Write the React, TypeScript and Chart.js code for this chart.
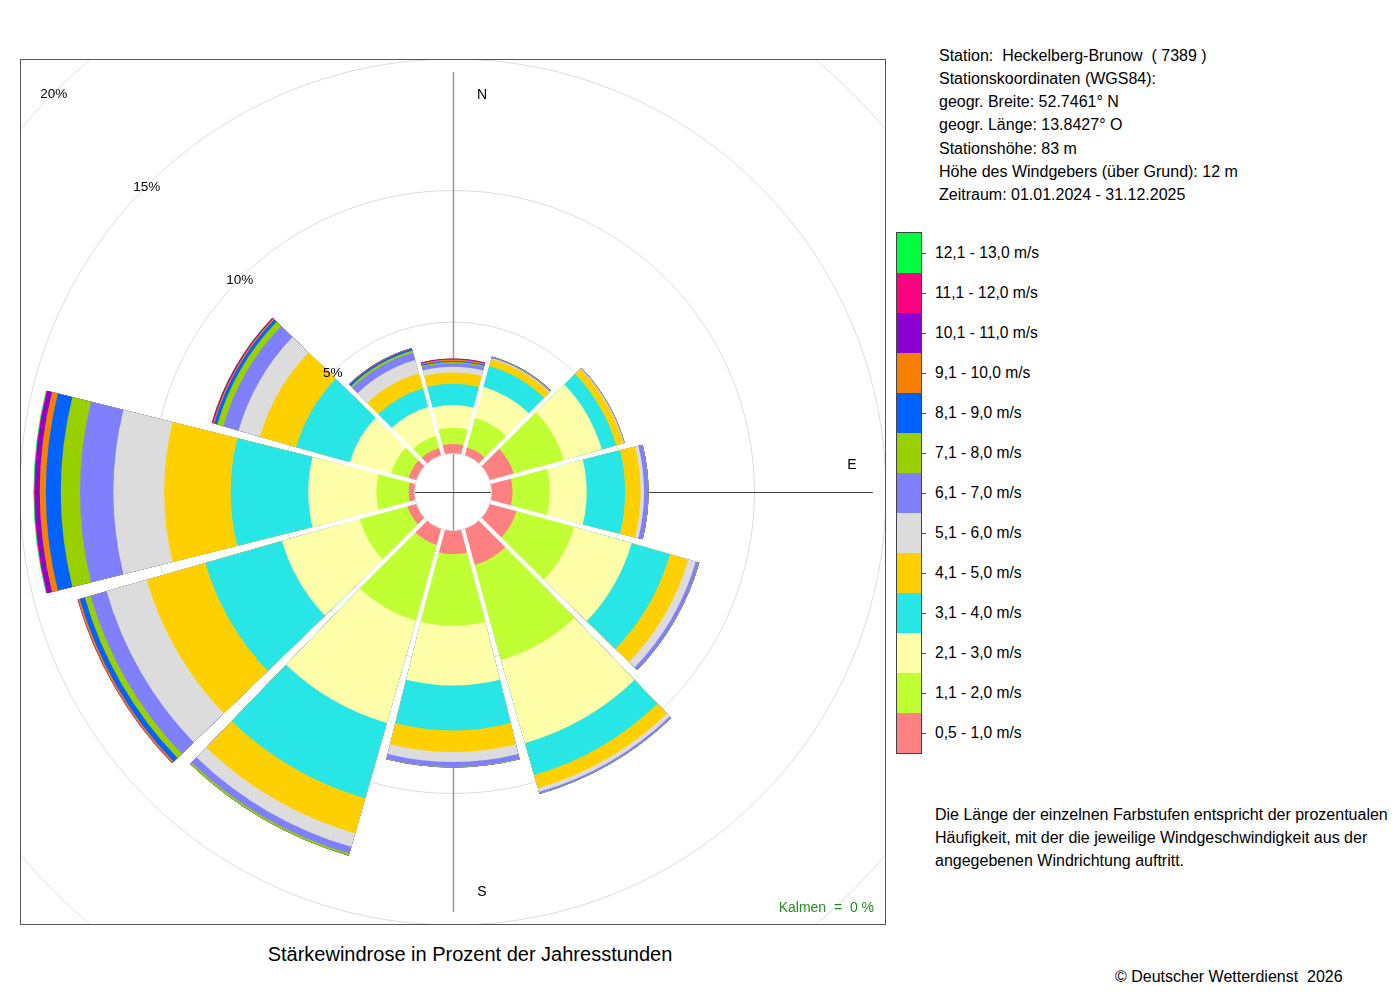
import React, { useEffect, useRef } from 'react';
import { Chart, registerables } from 'chart.js';

Chart.register(...registerables);

// ---------- data ----------
const directions = ['N', 'NNO', 'ONO', 'O', 'OSO', 'SSO', 'S', 'SSW', 'WSW', 'W', 'WNW', 'NNW'];

const speedLabels = [
  '0,5 - 1,0 m/s', '1,1 - 2,0 m/s', '2,1 - 3,0 m/s', '3,1 - 4,0 m/s', '4,1 - 5,0 m/s',
  '5,1 - 6,0 m/s', '6,1 - 7,0 m/s', '7,1 - 8,0 m/s', '8,1 - 9,0 m/s', '9,1 - 10,0 m/s',
  '10,1 - 11,0 m/s', '11,1 - 12,0 m/s', '12,1 - 13,0 m/s',
];

const speedColors = [
  '#FF8080', '#C0FF33', '#FFFFAA', '#29E6E6', '#FFD000', '#DCDCDC', '#8080FF',
  '#99D000', '#0062FF', '#F88000', '#8C00D2', '#FF0080', '#00FF40',
];

// frequency (% of hours) per direction, for each speed class
const s05_10 = [0.36, 0.32, 0.95, 0.80, 1.06, 1.43, 0.90, 0.64, 0.35, 0.22, 0.31, 0.30];
const s11_20 = [0.62, 1.16, 1.97, 1.42, 2.27, 3.75, 2.72, 2.99, 1.89, 1.23, 0.69, 0.47];
const s21_30 = [0.86, 1.22, 1.50, 1.40, 2.27, 3.29, 2.27, 4.04, 3.06, 2.59, 1.62, 1.14];
const s31_40 = [0.81, 0.82, 0.57, 1.46, 1.52, 1.26, 1.71, 2.98, 3.03, 2.95, 2.12, 0.73];
const s41_50 = [0.43, 0.28, 0.28, 0.59, 0.72, 0.52, 0.82, 1.39, 2.32, 2.53, 1.43, 0.59];
const s51_60 = [0.22, 0.04, 0.03, 0.13, 0.30, 0.15, 0.38, 0.53, 1.59, 1.93, 0.85, 0.53];
const s61_70 = [0.13, 0.03, 0.02, 0.16, 0.13, 0.07, 0.19, 0.27, 0.63, 1.27, 0.60, 0.29];
const s71_80 = [0.05, 0.02, 0.01, 0.01, 0.01, 0.01, 0.02, 0.07, 0.23, 0.73, 0.24, 0.08];
const s81_90 = [0.04, 0.01, 0.00, 0.00, 0.00, 0.00, 0.00, 0.01, 0.20, 0.57, 0.12, 0.07];
const s91_100 = [0.05, 0.00, 0.00, 0.00, 0.00, 0.00, 0.00, 0.00, 0.07, 0.23, 0.05, 0.02];
const s101_110 = [0.03, 0.00, 0.00, 0.00, 0.00, 0.00, 0.00, 0.00, 0.01, 0.18, 0.03, 0.01];
const s111_120 = [0.01, 0.00, 0.00, 0.00, 0.00, 0.00, 0.00, 0.00, 0.01, 0.03, 0.02, 0.005];
const s121_130 = [0.00, 0.00, 0.00, 0.00, 0.00, 0.00, 0.00, 0.00, 0.00, 0.03, 0.01, 0.00];

const ringTicks = [5, 10, 15, 20];
const ringTickLabels = ['5%', '10%', '15%', '20%'];

const infoLines = [
  'Station:  Heckelberg-Brunow  ( 7389 )',
  'Stationskoordinaten (WGS84):',
  'geogr. Breite: 52.7461° N',
  'geogr. Länge: 13.8427° O',
  'Stationshöhe: 83 m',
  'Höhe des Windgebers (über Grund): 12 m',
  'Zeitraum: 01.01.2024 - 31.12.2025',
];
const descLines = [
  'Die Länge der einzelnen Farbstufen entspricht der prozentualen',
  'Häufigkeit, mit der die jeweilige Windgeschwindigkeit aus der',
  'angegebenen Windrichtung auftritt.',
];
const titleText = 'Stärkewindrose in Prozent der Jahresstunden';
const calmText = 'Kalmen  =  0 %';
const copyrightText = '© Deutscher Wetterdienst  2026';

// ---------- layout constants ----------
const PLOT = 866;
const HOLE_PX = 38.5;
const PX_PER_PCT = 26.3;
const R_MIN = -HOLE_PX / PX_PER_PCT;
const R_MAX = R_MIN + PLOT / 2 / PX_PER_PCT;
const PETAL_DEG = 28;
const GAP_DEG = 2;
const FONT = '"Liberation Sans", Arial, Helvetica, sans-serif';

const classFreqs = [
  s05_10, s11_20, s21_30, s31_40, s41_50, s51_60, s61_70,
  s71_80, s81_90, s91_100, s101_110, s111_120, s121_130,
];

const decorPlugin = {
  id: 'roseDecor',
  afterDraw(chart: any) {
    const ctx: CanvasRenderingContext2D = chart.ctx;
    const sc = chart.scales.r;
    const cx = sc.xCenter;
    const cy = sc.yCenter;
    const dist = (v: number) => sc.getDistanceFromCenterForValue(v);
    const pt = (bearing: number, d: number) => {
      const a = ((bearing - 90) * Math.PI) / 180;
      return [cx + Math.cos(a) * d, cy + Math.sin(a) * d];
    };
    ctx.save();
    // cut gaps between petals and the central hole
    ctx.globalCompositeOperation = 'destination-out';
    ctx.strokeStyle = '#000';
    ctx.lineWidth = 4;
    directions.forEach((_, i) => {
      const [x, y] = pt(i * 30 + 15, 700);
      ctx.beginPath();
      ctx.moveTo(cx, cy);
      ctx.lineTo(x, y);
      ctx.stroke();
    });
    ctx.beginPath();
    ctx.arc(cx, cy, dist(0), 0, Math.PI * 2);
    ctx.fillStyle = '#000';
    ctx.fill();

    // things behind the petals
    ctx.globalCompositeOperation = 'destination-over';
    ctx.lineWidth = 1;
    ctx.strokeStyle = '#444';
    ctx.beginPath();
    ctx.moveTo(cx - 420, cy + 0.5);
    ctx.lineTo(cx + 420, cy + 0.5);
    ctx.stroke();
    ctx.strokeStyle = '#999';
    ctx.lineWidth = 1.5;
    ctx.beginPath();
    ctx.moveTo(cx + 0.5, cy - 420);
    ctx.lineTo(cx + 0.5, cy + 420);
    ctx.stroke();
    ctx.strokeStyle = '#dcdcdc';
    ctx.lineWidth = 1;
    ringTicks.forEach((v) => {
      ctx.beginPath();
      ctx.arc(cx, cy, dist(v), 0, Math.PI * 2);
      ctx.stroke();
    });

    // foreground
    ctx.globalCompositeOperation = 'source-over';
    ctx.strokeStyle = '#d8d8d8';
    ctx.lineWidth = 1;
    ctx.beginPath();
    ctx.arc(cx, cy, dist(0), 0, Math.PI * 2);
    ctx.stroke();

    ctx.fillStyle = '#000';
    ctx.font = `13.5px ${FONT}`;
    ctx.textAlign = 'center';
    ctx.textBaseline = 'middle';
    ringTicks.forEach((v, i) => {
      const [x, y] = pt(315, dist(v));
      ctx.fillText(ringTickLabels[i], x, y + 1);
    });

    ctx.font = `14px ${FONT}`;
    ctx.fillText('N', cx + 29, cy - 397);
    ctx.fillText('E', cx + 399, cy - 27);
    ctx.fillText('S', cx + 29, cy + 400);

    ctx.font = `14px ${FONT}`;
    ctx.fillStyle = '#228B22';
    ctx.textAlign = 'right';
    ctx.fillText(calmText, PLOT - 12, PLOT - 17);

    ctx.strokeStyle = '#555';
    ctx.lineWidth = 1;
    ctx.strokeRect(0.5, 0.5, PLOT - 1, PLOT - 1);
    ctx.restore();
  },
};

function RoseChart() {
  const ref = useRef<HTMLCanvasElement | null>(null);
  useEffect(() => {
    if (!ref.current) return;
    const cumulative = classFreqs.map((_, k) =>
      directions.map((__, d) => classFreqs.slice(0, k + 1).reduce((s, arr) => s + arr[d], 0))
    );
    const datasets = cumulative.map((cum, k) => ({
      label: speedLabels[k],
      data: cum.flatMap((v) => [v, 0]),
      backgroundColor: (c: any) => (c.dataIndex % 2 === 0 ? speedColors[k] : 'rgba(0,0,0,0)'),
      borderWidth: 0,
      angle: (c: any) => (c.dataIndex % 2 === 0 ? PETAL_DEG : GAP_DEG),
    }));
    const chart = new Chart(ref.current, {
      type: 'polarArea',
      data: { labels: directions.flatMap((d) => [d, '']), datasets: datasets as any },
      options: {
        animation: false,
        responsive: false,
        events: [],
        layout: { padding: 0, autoPadding: false },
        plugins: { legend: { display: false }, tooltip: { enabled: false } },
        scales: {
          r: {
            type: 'radialLinear',
            min: R_MIN,
            max: R_MAX,
            startAngle: -PETAL_DEG / 2,
            ticks: { display: false },
            grid: { display: false },
            angleLines: { display: false },
            pointLabels: { display: false },
          },
        },
      } as any,
      plugins: [decorPlugin as any],
    });
    return () => chart.destroy();
  }, []);
  return (
    <canvas
      ref={ref}
      width={PLOT}
      height={PLOT}
      style={{ position: 'absolute', left: 20, top: 59, width: PLOT, height: PLOT }}
    />
  );
}

const Txt = ({ x, y, size = 16, children, color = '#000' }: any) => (
  <div
    style={{
      position: 'absolute',
      left: x,
      top: y - size * 0.65,
      fontSize: size,
      lineHeight: `${Math.round(size * 1.3)}px`,
      whiteSpace: 'pre',
      color,
    }}
  >
    {children}
  </div>
);

export default function App() {
  useEffect(() => {
    document.body.style.margin = '0';
  }, []);
  const legendTop = 232;
  const itemH = 40;
  const legendItems = speedLabels.map((l, i) => ({ label: l, color: speedColors[i] })).reverse();
  return (
    <div
      style={{
        position: 'absolute',
        left: 0,
        top: 0,
        width: 1400,
        height: 1000,
        background: '#fff',
        fontFamily: FONT,
        color: '#000',
        overflow: 'hidden',
      }}
    >
      <RoseChart />
      {infoLines.map((t, i) => (
        <Txt key={'i' + i} x={939} y={55 + i * 23.25}>
          {t}
        </Txt>
      ))}
      <div
        style={{
          position: 'absolute',
          left: 896,
          top: legendTop,
          width: 24,
          height: itemH * legendItems.length,
          border: '1px solid #444',
        }}
      >
        {legendItems.map((it, i) => (
          <div key={i} style={{ width: 24, height: itemH, background: it.color }} />
        ))}
      </div>
      {legendItems.map((it, i) => (
        <React.Fragment key={'l' + i}>
          <div
            style={{
              position: 'absolute',
              left: 921,
              top: legendTop + 1 + i * itemH + itemH / 2,
              width: 5,
              height: 1,
              background: '#444',
            }}
          />
          <Txt x={935} y={legendTop + 1 + i * itemH + itemH / 2} size={15.6}>
            {it.label}
          </Txt>
        </React.Fragment>
      ))}
      {descLines.map((t, i) => (
        <Txt key={'d' + i} x={935} y={814 + i * 23}>
          {t}
        </Txt>
      ))}
      <div
        style={{
          position: 'absolute',
          left: 170,
          width: 600,
          top: 941,
          fontSize: 20,
          lineHeight: '26px',
          textAlign: 'center',
        }}
      >
        {titleText}
      </div>
      <Txt x={1115} y={976}>
        {copyrightText}
      </Txt>
    </div>
  );
}
